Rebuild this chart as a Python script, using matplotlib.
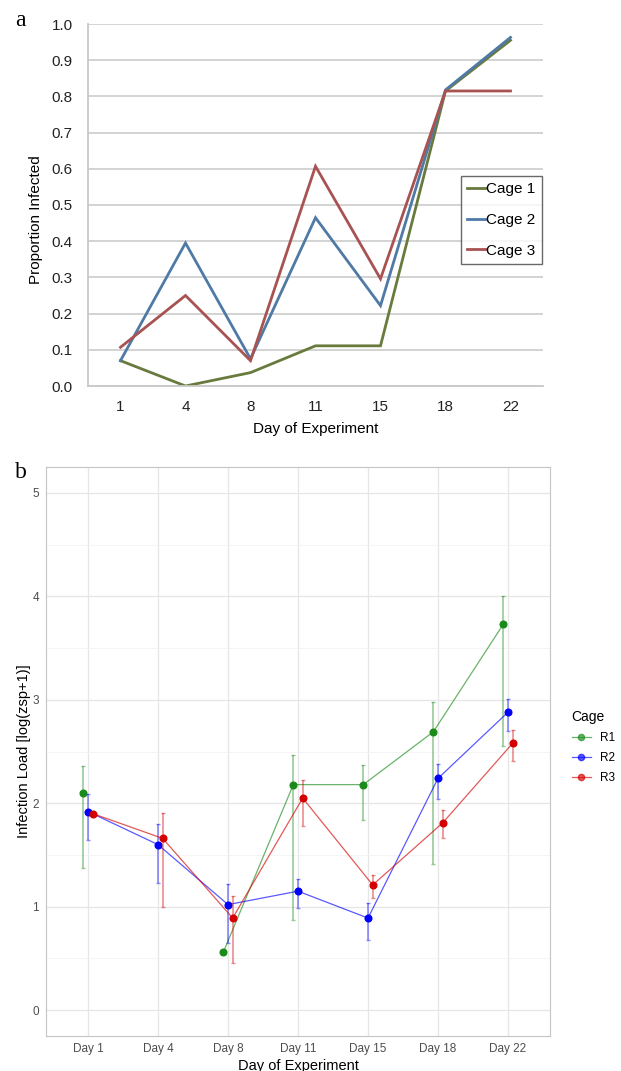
import matplotlib.pyplot as plt
import numpy as np

plt.rcParams['font.family'] = ['Liberation Sans', 'DejaVu Sans']

# ---- panel a data ----
days_a = ['1', '4', '8', '11', '15', '18', '22']
cage1 = [0.070, 0.000, 0.037, 0.111, 0.111, 0.815, 0.955]
cage2 = [0.070, 0.395, 0.075, 0.465, 0.222, 0.818, 0.963]
cage3 = [0.107, 0.250, 0.070, 0.607, 0.296, 0.815, 0.815]

# ---- panel b data ----
days_b = ['Day 1', 'Day 4', 'Day 8', 'Day 11', 'Day 15', 'Day 18', 'Day 22']
r1_mean = [2.10, np.nan, 0.56, 2.18, 2.18, 2.69, 3.73]
r1_lo = [1.37, np.nan, np.nan, 0.87, 1.84, 1.41, 2.55]
r1_hi = [2.36, np.nan, np.nan, 2.47, 2.37, 2.98, 4.00]
r2_mean = [1.92, 1.60, 1.02, 1.15, 0.89, 2.24, 2.88]
r2_lo = [1.64, 1.23, 0.65, 0.99, 0.68, 2.04, 2.70]
r2_hi = [2.09, 1.80, 1.22, 1.27, 1.04, 2.38, 3.01]
r3_mean = [1.90, 1.66, 0.89, 2.05, 1.21, 1.81, 2.58]
r3_lo = [np.nan, 1.00, 0.46, 1.78, 1.08, 1.66, 2.41]
r3_hi = [np.nan, 1.91, 1.10, 2.22, 1.31, 1.93, 2.71]

W, H = 621, 1071
fig = plt.figure(figsize=(W / 100, H / 100), dpi=100)


def px_axes(left, top, right, bottom):
    # axes rectangle from pixel edges
    return fig.add_axes([left / W, 1 - bottom / H, (right - left) / W, (bottom - top) / H])


# ================= panel a =================
ax = px_axes(88, 24, 543, 386)
xa = np.arange(len(days_a)) + 0.5
for vals, col, lab in [(cage1, '#697a3d', 'Cage 1'),
                       (cage2, '#4f7aa6', 'Cage 2'),
                       (cage3, '#a85252', 'Cage 3')]:
    ax.plot(xa, vals, color=col, lw=2.0, label=lab, solid_joinstyle='miter')
ax.set_xlim(0, 7)
ax.set_ylim(0, 1.0)
ticks_a = np.arange(0, 1.01, 0.1)
ax.set_yticks(ticks_a)
ax.set_yticklabels(['%.1f' % v for v in ticks_a])
ax.set_xticks(xa)
ax.set_xticklabels(days_a)
ax.grid(axis='y', color='#d0d0d0', lw=1.3)
ax.set_axisbelow(True)
for s in ['top', 'right']:
    ax.spines[s].set_visible(False)
for s in ['left', 'bottom']:
    ax.spines[s].set_color('#c8c8c8')
    ax.spines[s].set_linewidth(1.3)
ax.tick_params(length=0, labelsize=11, colors='#222222')
ax.tick_params(axis='y', pad=11)
ax.tick_params(axis='x', pad=10)
ax.set_ylabel('Proportion Infected', fontsize=11)
ax.yaxis.set_label_coords(-0.098, 0.46)
ax.set_xlabel('Day of Experiment', fontsize=11, labelpad=6)
leg = ax.legend(loc='upper left', bbox_to_anchor=(0.82, 0.58), fontsize=11,
                frameon=True, fancybox=False, handlelength=1.2,
                handletextpad=0.05, labelspacing=1.1, borderpad=0.4,
                borderaxespad=0)
leg.get_frame().set_edgecolor('#444444')
leg.get_frame().set_linewidth(1.0)
fig.text(20 / W, 1 - 21 / H, 'a', fontsize=17, family='Liberation Serif',
         ha='center', va='center')

# ================= panel b =================
bx = px_axes(46, 467, 550, 1036)
xb = np.arange(len(days_b))
dodge = 0.067
series = [(r1_mean, r1_lo, r1_hi, '#1a8a1a', 'R1', -dodge),
          (r2_mean, r2_lo, r2_hi, '#0000ff', 'R2', 0.0),
          (r3_mean, r3_lo, r3_hi, '#d40000', 'R3', dodge)]
for m, lo, hi, col, lab, off in series:
    m = np.array(m)
    lo = np.array(lo)
    hi = np.array(hi)
    xx = xb + off
    ok = ~np.isnan(lo)
    bx.errorbar(xx[ok], m[ok], yerr=[m[ok] - lo[ok], hi[ok] - m[ok]],
                fmt='none', ecolor=col, alpha=0.45, elinewidth=1.2,
                capsize=1.5, capthick=1.0)
    bx.plot(xx, m, color=col, lw=0.9, alpha=0.65)
    bx.plot(xx, m, 'o', color=col, ms=4.8, ls='none')
    bx.plot([], [], color=col, lw=0.9, alpha=0.65, marker='o', ms=4.5,
            mfc=col, mec=col, label=lab)
bx.set_xlim(-0.6, 6.6)
bx.set_ylim(-0.25, 5.25)
bx.set_xticks(xb)
bx.set_xticklabels(days_b)
bx.set_yticks([0, 1, 2, 3, 4, 5])
bx.set_yticks(np.arange(0.5, 5.0, 1.0), minor=True)
bx.grid(which='major', color='#e6e6e6', lw=0.9)
bx.grid(which='minor', axis='y', color='#f2f2f2', lw=0.6)
bx.set_axisbelow(True)
for s in bx.spines.values():
    s.set_color('#c4c4c4')
    s.set_linewidth(0.8)
bx.tick_params(which='both', length=0, labelsize=8.5, colors='#4d4d4d', pad=5)
bx.set_ylabel('Infection Load [log(zsp+1)]', fontsize=10.5, labelpad=1)
bx.set_xlabel('Day of Experiment', fontsize=10.5, labelpad=3)
leg2 = bx.legend(loc='center left', bbox_to_anchor=(1.022, 0.508),
                 title='Cage', frameon=False, fontsize=8.5, title_fontsize=10,
                 handlelength=1.6, handletextpad=0.8, labelspacing=0.7)
leg2._legend_box.align = 'left'
fig.text(21 / W, 1 - 472 / H, 'b', fontsize=17, family='Liberation Serif',
         ha='center', va='center')

fig.savefig('out.png', dpi=100)
